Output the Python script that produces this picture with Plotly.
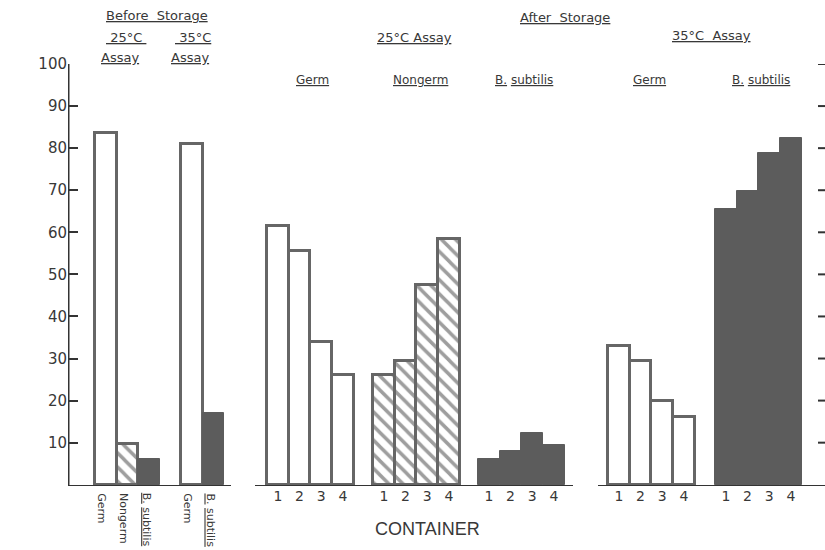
import plotly.graph_objects as go

# ---------------- data ----------------
before25_labels = ["Germ", "Nongerm", "B. subtilis"]
before25_values = [83.5, 9.8, 6.0]
before35_labels = ["Germ", "B. subtilis"]
before35_values = [81.0, 17.0]

containers = ["1", "2", "3", "4"]
after25_germ = [61.5, 55.5, 34.0, 26.0]
after25_nongerm = [26.0, 29.5, 47.5, 58.5]
after25_bsub = [6.2, 8.1, 12.3, 9.5]
after35_germ = [33.0, 29.3, 19.8, 16.0]
after35_bsub = [65.5, 69.8, 78.8, 82.3]

y_ticks = [10, 20, 30, 40, 50, 60, 70, 80, 90, 100]

# ---------------- layout helpers ----------------
W, H = 825, 550
PLOT_L, PLOT_T, PLOT_B = 68, 64, 486   # plot area in pixels
BW = 21.7                          # bar width (x axis in pixel units)
PLOT_H = PLOT_B - PLOT_T


def centers(left, n):
    return [left + BW * (i + 0.5) for i in range(n)]


def py(p):                         # pixel y -> paper y
    return (PLOT_B - p) / PLOT_H


OUT = "#666666"
DARK = "#5c5c5c"
TXT = "#383838"
FONT = "Liberation Sans"
HFONT = "DejaVu Sans"

fig = go.Figure()


def add_bars(xs, ys, style):
    if style == "open":
        marker = dict(color="white", line=dict(color=OUT, width=3))
    elif style == "hatch":
        marker = dict(color="white", line=dict(color=OUT, width=3),
                      pattern=dict(shape="\\", fgcolor="#3e3e3e", bgcolor="white",
                                   size=10, solidity=0.35, fillmode="overlay"))
    else:
        marker = dict(color=DARK, line=dict(color=DARK, width=1))
    fig.add_trace(go.Bar(x=xs, y=ys, width=BW, marker=marker,
                         showlegend=False, hoverinfo="x+y"))


# before storage, 25 C assay
bx25 = centers(95, 3)
add_bars([bx25[0]], [before25_values[0]], "open")
add_bars([bx25[1]], [before25_values[1]], "hatch")
add_bars([bx25[2]], [before25_values[2]], "dark")
# before storage, 35 C assay
bx35 = centers(181, 2)
add_bars([bx35[0]], [before35_values[0]], "open")
add_bars([bx35[1]], [before35_values[1]], "dark")

# after storage
g25 = centers(267, 4)
n25 = centers(373, 4)
s25 = centers(478, 4)
g35 = centers(608, 4)
s35 = centers(715, 4)
add_bars(g25, after25_germ, "open")
add_bars(n25, after25_nongerm, "hatch")
add_bars(s25, after25_bsub, "dark")
add_bars(g35, after35_germ, "open")
add_bars(s35, after35_bsub, "dark")

# baseline segments and left axis line
for x0, x1 in [(66, 231), (255, 573), (598, 825)]:
    fig.add_shape(type="line", xref="x", yref="y", x0=x0, x1=x1, y0=-0.3, y1=-0.3,
                  line=dict(color="#333333", width=2))
fig.add_shape(type="line", xref="x", yref="y", x0=68.5, x1=68.5, y0=-0.3, y1=100,
              line=dict(color="#333333", width=2))
# short unlabeled ticks at the right edge
for v in y_ticks:
    fig.add_shape(type="line", xref="x", yref="y", x0=818, x1=825, y0=v, y1=v,
                  line=dict(color="#333333", width=2))

tickvals = g25 + n25 + s25 + g35 + s35
ticktext = containers * 5

ann = []


def text(x, y, s, size=13, family=HFONT, **kw):
    d = dict(x=x, y=py(y), xref="x", yref="paper", text=s, showarrow=False,
             xanchor="center", yanchor="middle",
             font=dict(family=family, size=size, color=TXT))
    d.update(kw)
    ann.append(d)


# headers
text(157, 15, "<u>Before\u00a0\u00a0Storage</u>")
text(126, 37, "<u>\u00a025°C\u00a0</u>")
text(193, 37, "<u>\u00a035°C</u>")
text(120, 58, "<u>Assay</u>")
text(190, 58, "<u>Assay</u>")
text(565, 17, "<u>After\u00a0\u00a0Storage</u>")
text(414, 37, "<u>25°C\u00a0Assay</u>")
text(711, 36, "<u>35°C\u00a0\u00a0Assay</u>")
text(312, 80, "<u>Germ</u>", size=12)
text(420, 80, "<u>Nongerm</u>", size=12)
text(524, 80, "<u>B.</u>\u00a0<u>subtilis</u>", size=12)
text(649, 80, "<u>Germ</u>", size=12)
text(761, 80, "<u>B.</u>\u00a0<u>subtilis</u>", size=12)

# rotated category labels under the before-storage bars
rot_x = [bx25[0] - 4, bx25[1] - 4, bx25[2] - 2, bx35[0] - 4, bx35[1] - 3]
rot_t = ["Germ", "Nongerm", "<u>B.</u>\u00a0<u>subtilis</u>", "Germ",
         "<u>B.</u>\u00a0<u>subtilis</u>"]
for x, t in zip(rot_x, rot_t):
    text(x, 491, t, size=11, textangle=90, yanchor="top")

text(427, 529, "CONTAINER", size=18, family=FONT)
text(17, 278, "PERCENTAGE", size=17, family=FONT, textangle=-90)
fig.update_layout(annotations=ann)

fig.update_layout(
    width=W, height=H,
    margin=dict(l=PLOT_L, r=0, t=PLOT_T, b=H - PLOT_B),
    paper_bgcolor="white", plot_bgcolor="white", bargap=0, barmode="overlay",
    xaxis=dict(range=[PLOT_L, W], showgrid=False, zeroline=False, showline=False,
               ticks="", tickvals=tickvals, ticktext=ticktext,
               tickfont=dict(family=HFONT, size=14, color=TXT)),
    yaxis=dict(range=[-0.3, 100], showgrid=False, zeroline=False, showline=False,
               ticks="inside", ticklen=10, tickwidth=2, tickcolor="#333333",
               tickvals=y_ticks,
               tickfont=dict(family=HFONT, size=15, color=TXT)),
)

fig.write_html("out.html",
               config={"displayModeBar": False},
               post_script="document.body.style.margin='0';"
                           "document.body.style.overflow='hidden';")
